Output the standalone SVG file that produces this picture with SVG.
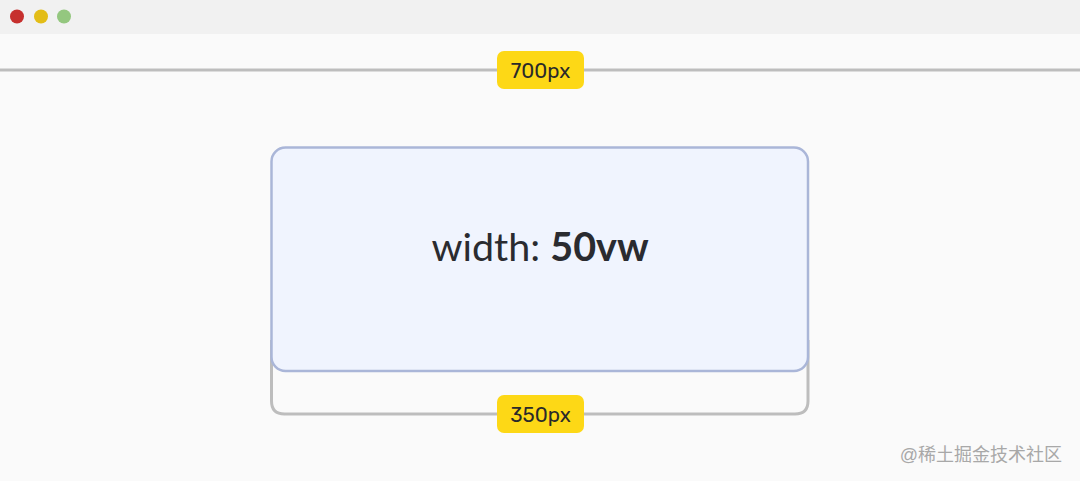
<svg xmlns="http://www.w3.org/2000/svg" width="1080" height="481" viewBox="0 0 1080 481">
<style>
.lbl{fill:#fdd816}
.lt{font-family:Rubik,"Open Sans","Liberation Sans",sans-serif;font-size:20.5px;fill:#2a2a2a;text-anchor:middle}
.rule{stroke:#bdbdbd;stroke-width:3;fill:none}
</style>
<rect width="1080" height="481" fill="#fafafa"/>
<rect width="1080" height="34" fill="#f1f1f1"/>
<circle cx="17" cy="16.5" r="7" fill="#c6302e"/>
<circle cx="41" cy="16.5" r="7" fill="#e3bd17"/>
<circle cx="64" cy="16.5" r="7" fill="#94c77f"/>
<g id="connectors">
<line class="rule" x1="0" y1="70" x2="1080" y2="70"/>
<path class="rule" d="M271.5 340 V401 Q271.5 414 284.5 414 H795 Q808 414 808 401 V340"/>
</g>
<g id="box">
<rect x="271.5" y="147.5" width="536.5" height="223.5" rx="14" fill="#f0f4fe" stroke="#aab6d8" stroke-width="2.5"/>
<text x="540" y="261" text-anchor="middle" font-family="Lato,'Open Sans','Liberation Sans',sans-serif" font-size="39.5" fill="#2a2b30">width: <tspan font-weight="bold">50vw</tspan></text>
</g>
<g id="label-700">
<rect class="lbl" x="497" y="51" width="87" height="38" rx="7"/>
<text class="lt" x="540.5" y="77.5">700px</text>
</g>
<g id="label-350">
<rect class="lbl" x="497" y="395" width="87" height="38" rx="7"/>
<text class="lt" x="540.5" y="421.5">350px</text>
</g>
<text x="1062" y="461" text-anchor="end" font-family="'Liberation Sans','Noto Sans CJK SC',sans-serif" font-size="18" fill="#a8a8a8">@稀土掘金技术社区</text>
</svg>
